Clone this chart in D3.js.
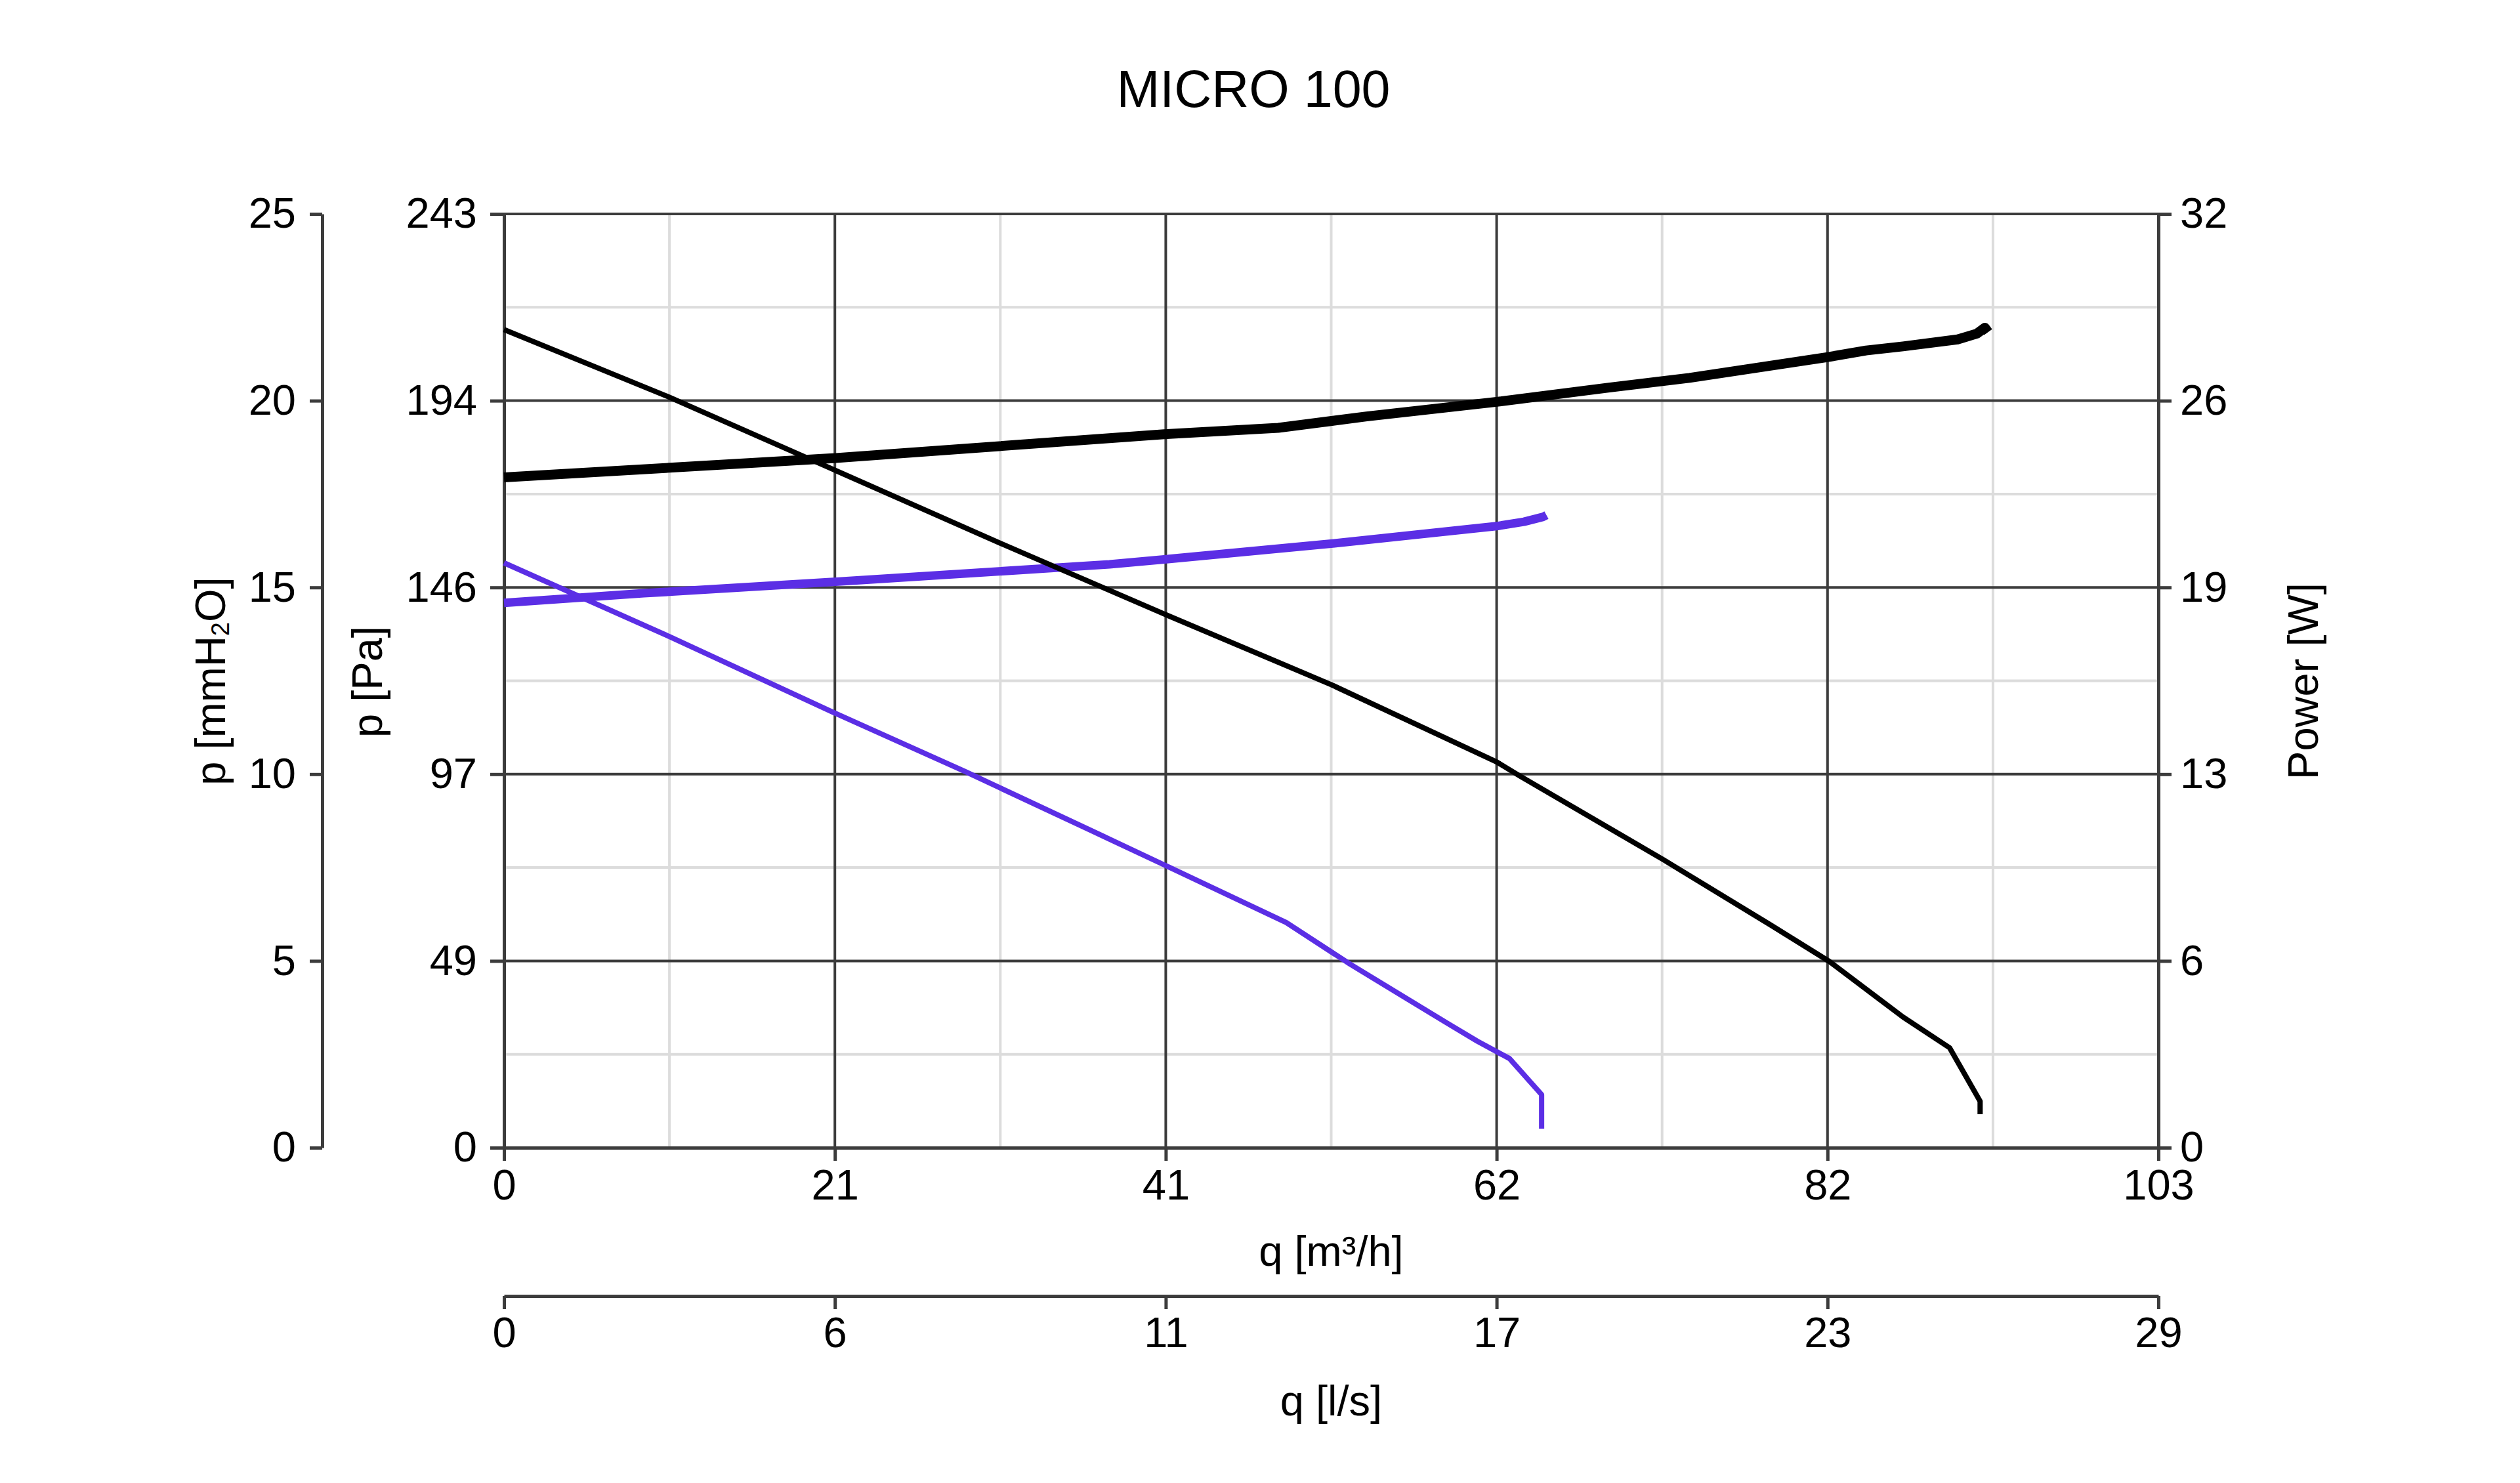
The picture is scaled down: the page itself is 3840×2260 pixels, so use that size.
<!DOCTYPE html>
<html>
<head>
<meta charset="utf-8">
<script src="https://cdn.jsdelivr.net/npm/d3@7"></script>
<style>
  body { margin: 0; background: #fff; }
  text { font-family: "Liberation Sans", Arial, sans-serif; fill: #000; }
</style>
</head>
<body>
<div id="chart"></div>
<script>

//Axis limits and tick labels
var qMax = 103, lsMax = 28.6, paMax = 243, mmMax = 25, wMax = 32;
var qLabels = [0, 21, 41, 62, 82, 103];
var lsLabels = [0, 6, 11, 17, 23, 29];
var paLabels = [0, 49, 97, 146, 194, 243];
var mmLabels = [0, 5, 10, 15, 20, 25];
var wLabels = [0, 6, 13, 19, 26, 32];

//Curves: [q m3/h, value]
var blackPressure = [[0, 212.9], [10.3, 195.3], [20.5, 176.5], [30.9, 157.3], [41.1, 138.9], [51.5, 120.5],
    [61.8, 100.4], [63.3, 96.6], [72.2, 74.9], [78.8, 58.1], [82.5, 48.5], [87.1, 34.0], [90.0, 26.0],
    [91.9, 12.1], [91.9, 8.7]];
var blackPower = [[0, 22.97], [20.5, 23.63], [41.1, 24.45], [48.2, 24.67], [53.7, 25.06], [61.8, 25.56],
    [68.8, 26.05], [73.8, 26.38], [82.5, 27.1], [84.8, 27.32], [87.1, 27.46], [90.5, 27.7], [91.7, 27.9],
    [92.2, 28.1], [92.4, 27.95]];
var purplePressure = [[0, 152.2], [10.3, 133.0], [20.5, 113.3], [28.7, 97.9], [37.7, 80.3], [41.1, 73.6],
    [48.7, 58.6], [52.7, 47.7], [58.8, 32.2], [60.6, 27.7], [62.6, 23.2], [64.6, 13.8], [64.6, 4.95]];
var purplePower = [[0, 18.67], [8.7, 19.0], [20.5, 19.39], [37.7, 19.99], [41.1, 20.16], [51.7, 20.71],
    [61.8, 21.3], [63.5, 21.45], [64.7, 21.62], [64.9, 21.68]];

var colors = ["#000000", "#5b2ee5"];

var makeChart = function() {

    //Size
    var w = 3840;
    var h = 2260;
    var margin = {top: 326, right: 551, bottom: 511, left: 768};
    var x0 = margin.left, x1 = w - margin.right, y0 = margin.top, y1 = h - margin.bottom;

    var svg = d3.select("#chart")
                .append("svg")
                .attr("width", w)
                .attr("height", h);

    //Scales
    var x = d3.scaleLinear().domain([0, qMax]).range([x0, x1]);
    var xLs = d3.scaleLinear().domain([0, lsMax]).range([x0, x1]);
    var yPa = d3.scaleLinear().domain([0, paMax]).range([y1, y0]);
    var yMm = d3.scaleLinear().domain([0, mmMax]).range([y1, y0]);
    var yW = d3.scaleLinear().domain([0, wMax]).range([y1, y0]);

    var steps = d3.range(6);
    var halfSteps = d3.range(5).map(i => i + 0.5);

    //Minor gridlines
    svg.append("g").selectAll("line")
        .data(halfSteps)
        .join("line")
        .attr("x1", d => x(qMax * d / 5)).attr("x2", d => x(qMax * d / 5))
        .attr("y1", y0).attr("y2", y1)
        .attr("stroke", "#dcdcdc").attr("stroke-width", 4);
    svg.append("g").selectAll("line")
        .data(halfSteps)
        .join("line")
        .attr("y1", d => yPa(paMax * d / 5)).attr("y2", d => yPa(paMax * d / 5))
        .attr("x1", x0).attr("x2", x1)
        .attr("stroke", "#dcdcdc").attr("stroke-width", 4);

    //Major gridlines
    svg.append("g").selectAll("line")
        .data(steps)
        .join("line")
        .attr("x1", d => x(qMax * d / 5)).attr("x2", d => x(qMax * d / 5))
        .attr("y1", y0).attr("y2", y1)
        .attr("stroke", "#3c3c3c").attr("stroke-width", 4);
    svg.append("g").selectAll("line")
        .data(steps)
        .join("line")
        .attr("y1", d => yPa(paMax * d / 5)).attr("y2", d => yPa(paMax * d / 5))
        .attr("x1", x0).attr("x2", x1)
        .attr("stroke", "#3c3c3c").attr("stroke-width", 4);

    //Axes
    function styleAxis(g) {
        g.attr("font-size", 65).attr("font-family", "Liberation Sans, Arial, sans-serif");
        g.selectAll("path, line").attr("stroke", "#3c3c3c").attr("stroke-width", 5);
        g.selectAll("text").attr("fill", "#000");
    }

    svg.append("g")
        .attr("transform", "translate(0," + y1 + ")")
        .call(d3.axisBottom(x).tickValues(steps.map(i => qMax * i / 5))
            .tickFormat((d, i) => qLabels[i]).tickSize(20).tickSizeOuter(0).tickPadding(13))
        .call(styleAxis);

    svg.append("g")
        .attr("transform", "translate(" + x0 + ",0)")
        .call(d3.axisLeft(yPa).tickValues(steps.map(i => paMax * i / 5))
            .tickFormat((d, i) => paLabels[i]).tickSize(21).tickSizeOuter(0).tickPadding(20))
        .call(styleAxis);

    svg.append("g")
        .attr("transform", "translate(" + x1 + ",0)")
        .call(d3.axisRight(yW).tickValues(steps.map(i => wMax * i / 5))
            .tickFormat((d, i) => wLabels[i]).tickSize(20).tickSizeOuter(0).tickPadding(13))
        .call(styleAxis);

    svg.append("g")
        .attr("transform", "translate(491,0)")
        .call(d3.axisLeft(yMm).tickValues(steps.map(i => mmMax * i / 5))
            .tickFormat((d, i) => mmLabels[i]).tickSize(19).tickSizeOuter(0).tickPadding(21))
        .call(styleAxis);

    svg.append("g")
        .attr("transform", "translate(0,1975)")
        .call(d3.axisBottom(xLs).tickValues(steps.map(i => lsMax * i / 5))
            .tickFormat((d, i) => lsLabels[i]).tickSize(20).tickSizeOuter(0).tickPadding(12))
        .call(styleAxis);

    //Curves
    var linePa = d3.line().x(d => x(d[0])).y(d => yPa(d[1]));
    var lineW = d3.line().x(d => x(d[0])).y(d => yW(d[1]));

    svg.append("path").datum(purplePower).attr("d", lineW)
        .attr("fill", "none").attr("stroke", colors[1]).attr("stroke-width", 13).attr("stroke-linejoin", "round");
    svg.append("path").datum(blackPower).attr("d", lineW)
        .attr("fill", "none").attr("stroke", colors[0]).attr("stroke-width", 15).attr("stroke-linejoin", "round");
    svg.append("path").datum(purplePressure).attr("d", linePa)
        .attr("fill", "none").attr("stroke", colors[1]).attr("stroke-width", 8).attr("stroke-linejoin", "round");
    svg.append("path").datum(blackPressure).attr("d", linePa)
        .attr("fill", "none").attr("stroke", colors[0]).attr("stroke-width", 8).attr("stroke-linejoin", "round");

    //Titles
    svg.append("text")
        .attr("x", 1910).attr("y", 163)
        .attr("text-anchor", "middle")
        .attr("font-size", 79)
        .text("MICRO 100");

    svg.append("text")
        .attr("x", (x0 + x1) / 2).attr("y", 1929)
        .attr("text-anchor", "middle").attr("font-size", 65)
        .text("q [m³/h]");

    svg.append("text")
        .attr("x", (x0 + x1) / 2).attr("y", 2157)
        .attr("text-anchor", "middle").attr("font-size", 65)
        .text("q [l/s]");

    var mmTitle = svg.append("text")
        .attr("transform", "translate(343,1038) rotate(-90)")
        .attr("text-anchor", "middle").attr("font-size", 65);
    mmTitle.append("tspan").text("p [mmH");
    mmTitle.append("tspan").attr("font-size", 38).attr("dy", 6).text("2");
    mmTitle.append("tspan").attr("dy", -6).text("O]");

    svg.append("text")
        .attr("transform", "translate(582,1039) rotate(-90)")
        .attr("text-anchor", "middle").attr("font-size", 65)
        .text("p [Pa]");

    svg.append("text")
        .attr("transform", "translate(3532,1038) rotate(-90)")
        .attr("text-anchor", "middle").attr("font-size", 65)
        .text("Power [W]");
}

makeChart();

</script>
</body>
</html>
